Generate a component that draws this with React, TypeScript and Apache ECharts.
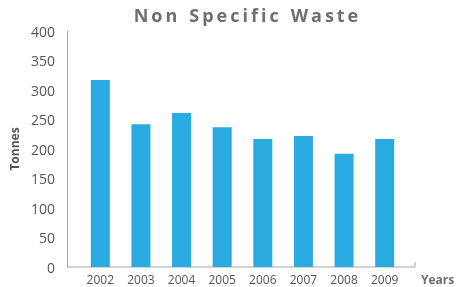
import React, { useEffect, useRef } from "react";
import * as echarts from "echarts";

const years = ["2002", "2003", "2004", "2005", "2006", "2007", "2008", "2009"];
const tonnes = [317, 242, 261, 237, 217, 222, 192, 217];
const titleText = "N\u2009o\u2009n\u2002\u2009S\u2009p\u2009e\u2009c\u2009i\u2009f\u2009i\u2009c\u2002\u2009W\u2009a\u2009s\u2009t\u2009e";

export default function App() {
  const ref = useRef<HTMLDivElement>(null);
  useEffect(() => {
    if (!ref.current) return;
    const chart = echarts.init(ref.current, null, { renderer: "svg" });
    const font = "'Open Sans', 'Noto Sans', sans-serif";
    chart.setOption({
      animation: false,
      title: {
        text: titleText,
        left: 241,
        textAlign: "center",
        top: 1,
        textStyle: { fontFamily: font, fontSize: 18, fontWeight: "bold", color: "#6d6e71" },
      },
      grid: { left: 80, right: 59, top: 31, bottom: 20, containLabel: false },
      xAxis: {
        type: "category",
        data: years,
        axisLine: { show: false },
        axisTick: { show: false },
        axisLabel: { fontFamily: font, fontSize: 12, lineHeight: 12, color: "#555", margin: 6 },
        name: "Years",
        nameLocation: "end",
        nameGap: 16,
        nameTextStyle: {
          fontFamily: font,
          fontSize: 12,
          lineHeight: 12,
          fontWeight: "bold",
          color: "#6d6e71",
          verticalAlign: "top",
          padding: [6, 0, 0, 0],
        },
      },
      yAxis: {
        type: "value",
        min: 0,
        max: 400,
        interval: 50,
        offset: 13,
        axisLine: { show: true, lineStyle: { color: "#a6a6a6", width: 1 } },
        axisTick: { show: false },
        splitLine: { show: false },
        axisLabel: { fontFamily: font, fontSize: 14, color: "#555", margin: 12 },
        name: "Tonnes",
        nameLocation: "middle",
        nameRotate: 90,
        nameGap: 44,
        nameTextStyle: { fontFamily: font, fontSize: 12, fontWeight: "bold", color: "#555" },
      },
      graphic: [
        { type: "line", shape: { x1: 67, y1: 267, x2: 415, y2: 267 }, style: { stroke: "#a6a6a6", lineWidth: 1 } },
        { type: "line", shape: { x1: 415, y1: 262, x2: 415, y2: 267 }, style: { stroke: "#a6a6a6", lineWidth: 1 } },
      ],
      series: [
        {
          type: "bar",
          data: tonnes,
          barWidth: 19,
          itemStyle: { color: "#29abe2" },
        },
      ],
    });
    return () => chart.dispose();
  }, []);
  return <div ref={ref} style={{ position: "fixed", left: 0, top: 0, width: 464, height: 287 }} />;
}
